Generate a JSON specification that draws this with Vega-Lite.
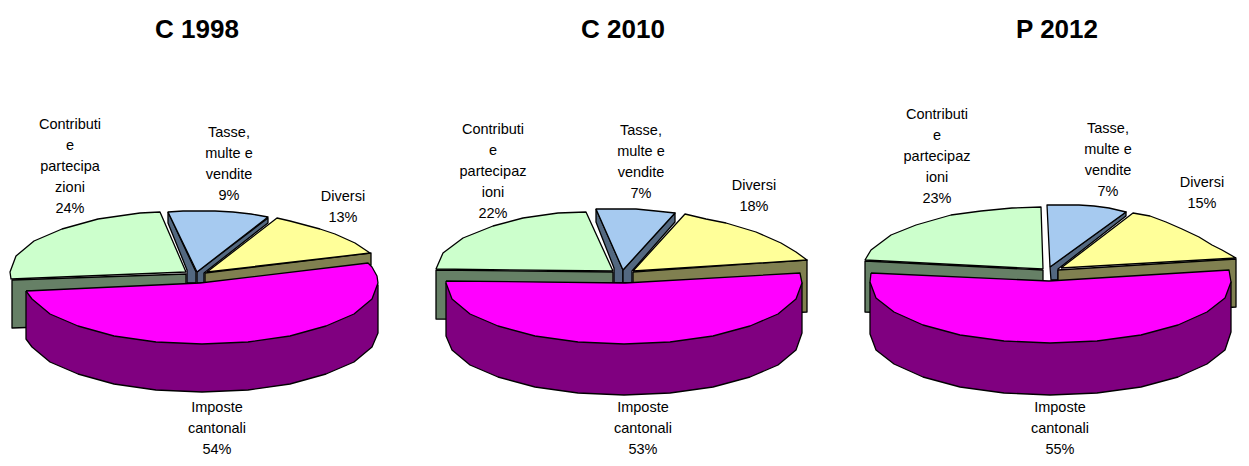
{"$schema":"https://vega.github.io/schema/vega-lite/v6.json","padding":0,"background":"white","bounds":"flush","config":{"view":{"stroke":null}},
"datasets":{"t":[
{"chart":"C 1998","role":"title","text":"C 1998","x":197,"y":17},
{"chart":"C 1998","role":"label","text":"Contributi\ne\npartecipa\nzioni\n24%","x":70,"y":118},
{"chart":"C 1998","role":"label","text":"Tasse,\nmulte e\nvendite\n9%","x":229,"y":126},
{"chart":"C 1998","role":"label","text":"Diversi\n13%","x":343,"y":190},
{"chart":"C 1998","role":"label","text":"Imposte\ncantonali\n54%","x":217,"y":401},
{"chart":"C 2010","role":"title","text":"C 2010","x":207,"y":17},
{"chart":"C 2010","role":"label","text":"Contributi\ne\npartecipaz\nioni\n22%","x":77,"y":123},
{"chart":"C 2010","role":"label","text":"Tasse,\nmulte e\nvendite\n7%","x":225,"y":124},
{"chart":"C 2010","role":"label","text":"Diversi\n18%","x":338,"y":179},
{"chart":"C 2010","role":"label","text":"Imposte\ncantonali\n53%","x":227,"y":401},
{"chart":"P 2012","role":"title","text":"P 2012","x":225,"y":17},
{"chart":"P 2012","role":"label","text":"Contributi\ne\npartecipaz\nioni\n23%","x":105,"y":108},
{"chart":"P 2012","role":"label","text":"Tasse,\nmulte e\nvendite\n7%","x":276,"y":122},
{"chart":"P 2012","role":"label","text":"Diversi\n15%","x":370,"y":176},
{"chart":"P 2012","role":"label","text":"Imposte\ncantonali\n55%","x":228,"y":401}
],
"p":[
{"chart":"C 1998","part":"cs","x":12,"y":280},{"chart":"C 1998","part":"cs","x":186,"y":274},{"chart":"C 1998","part":"cs","x":186,"y":322},{"chart":"C 1998","part":"cs","x":12,"y":328},{"chart":"C 1998","part":"cs","x":12,"y":280},
{"chart":"C 1998","part":"c","x":186,"y":272},{"chart":"C 1998","part":"c","x":11,"y":279},{"chart":"C 1998","part":"c","x":10,"y":272},{"chart":"C 1998","part":"c","x":16,"y":256},{"chart":"C 1998","part":"c","x":34,"y":241},{"chart":"C 1998","part":"c","x":62,"y":229},{"chart":"C 1998","part":"c","x":98,"y":219},{"chart":"C 1998","part":"c","x":140,"y":213},{"chart":"C 1998","part":"c","x":160,"y":212},{"chart":"C 1998","part":"c","x":186,"y":272},
{"chart":"C 1998","part":"tl","x":168,"y":212},{"chart":"C 1998","part":"tl","x":168,"y":223},{"chart":"C 1998","part":"tl","x":187,"y":270},{"chart":"C 1998","part":"tl","x":187,"y":283},{"chart":"C 1998","part":"tl","x":196,"y":283},{"chart":"C 1998","part":"tl","x":196,"y":272},{"chart":"C 1998","part":"tl","x":168,"y":212},
{"chart":"C 1998","part":"tr","x":197,"y":272},{"chart":"C 1998","part":"tr","x":268,"y":218},{"chart":"C 1998","part":"tr","x":268,"y":223},{"chart":"C 1998","part":"tr","x":204,"y":273},{"chart":"C 1998","part":"tr","x":204,"y":283},{"chart":"C 1998","part":"tr","x":197,"y":283},{"chart":"C 1998","part":"tr","x":197,"y":272},
{"chart":"C 1998","part":"t","x":197,"y":272},{"chart":"C 1998","part":"t","x":168,"y":212},{"chart":"C 1998","part":"t","x":183,"y":211},{"chart":"C 1998","part":"t","x":197,"y":211},{"chart":"C 1998","part":"t","x":215,"y":211},{"chart":"C 1998","part":"t","x":233,"y":212},{"chart":"C 1998","part":"t","x":251,"y":214},{"chart":"C 1998","part":"t","x":268,"y":217},{"chart":"C 1998","part":"t","x":197,"y":272},
{"chart":"C 1998","part":"ds","x":205,"y":273},{"chart":"C 1998","part":"ds","x":371,"y":253},{"chart":"C 1998","part":"ds","x":371,"y":265},{"chart":"C 1998","part":"ds","x":205,"y":285},{"chart":"C 1998","part":"ds","x":205,"y":273},
{"chart":"C 1998","part":"d","x":207,"y":272},{"chart":"C 1998","part":"d","x":277,"y":218},{"chart":"C 1998","part":"d","x":290,"y":221},{"chart":"C 1998","part":"d","x":305,"y":225},{"chart":"C 1998","part":"d","x":320,"y":229},{"chart":"C 1998","part":"d","x":335,"y":234},{"chart":"C 1998","part":"d","x":355,"y":243},{"chart":"C 1998","part":"d","x":370,"y":253},{"chart":"C 1998","part":"d","x":207,"y":272},
{"chart":"C 1998","part":"is","x":26,"y":291},{"chart":"C 1998","part":"is","x":26,"y":339},{"chart":"C 1998","part":"is","x":32,"y":347},{"chart":"C 1998","part":"is","x":50,"y":362},{"chart":"C 1998","part":"is","x":78,"y":374},{"chart":"C 1998","part":"is","x":114,"y":384},{"chart":"C 1998","part":"is","x":156,"y":390},{"chart":"C 1998","part":"is","x":202,"y":392},{"chart":"C 1998","part":"is","x":248,"y":390},{"chart":"C 1998","part":"is","x":290,"y":384},{"chart":"C 1998","part":"is","x":326,"y":374},{"chart":"C 1998","part":"is","x":354,"y":362},{"chart":"C 1998","part":"is","x":372,"y":347},{"chart":"C 1998","part":"is","x":378,"y":333},{"chart":"C 1998","part":"is","x":378,"y":285},{"chart":"C 1998","part":"is","x":26,"y":291},
{"chart":"C 1998","part":"i","x":26,"y":291},{"chart":"C 1998","part":"i","x":200,"y":283},{"chart":"C 1998","part":"i","x":368,"y":263},{"chart":"C 1998","part":"i","x":372,"y":267},{"chart":"C 1998","part":"i","x":377,"y":276},{"chart":"C 1998","part":"i","x":378,"y":283},{"chart":"C 1998","part":"i","x":372,"y":299},{"chart":"C 1998","part":"i","x":354,"y":314},{"chart":"C 1998","part":"i","x":326,"y":326},{"chart":"C 1998","part":"i","x":290,"y":336},{"chart":"C 1998","part":"i","x":248,"y":342},{"chart":"C 1998","part":"i","x":202,"y":344},{"chart":"C 1998","part":"i","x":156,"y":342},{"chart":"C 1998","part":"i","x":114,"y":336},{"chart":"C 1998","part":"i","x":78,"y":326},{"chart":"C 1998","part":"i","x":50,"y":314},{"chart":"C 1998","part":"i","x":32,"y":299},{"chart":"C 1998","part":"i","x":26,"y":291},

{"chart":"C 2010","part":"cs","x":20,"y":270},{"chart":"C 2010","part":"cs","x":197,"y":272},{"chart":"C 2010","part":"cs","x":197,"y":320},{"chart":"C 2010","part":"cs","x":20,"y":319},{"chart":"C 2010","part":"cs","x":20,"y":270},
{"chart":"C 2010","part":"c","x":197,"y":271},{"chart":"C 2010","part":"c","x":20,"y":269},{"chart":"C 2010","part":"c","x":27,"y":253},{"chart":"C 2010","part":"c","x":47,"y":238},{"chart":"C 2010","part":"c","x":77,"y":226},{"chart":"C 2010","part":"c","x":107,"y":218},{"chart":"C 2010","part":"c","x":142,"y":213},{"chart":"C 2010","part":"c","x":170,"y":212},{"chart":"C 2010","part":"c","x":197,"y":271},
{"chart":"C 2010","part":"tl","x":180,"y":209},{"chart":"C 2010","part":"tl","x":180,"y":222},{"chart":"C 2010","part":"tl","x":198,"y":268},{"chart":"C 2010","part":"tl","x":198,"y":283},{"chart":"C 2010","part":"tl","x":207,"y":283},{"chart":"C 2010","part":"tl","x":207,"y":270},{"chart":"C 2010","part":"tl","x":180,"y":209},
{"chart":"C 2010","part":"tr","x":207,"y":270},{"chart":"C 2010","part":"tr","x":259,"y":213},{"chart":"C 2010","part":"tr","x":259,"y":222},{"chart":"C 2010","part":"tr","x":216,"y":271},{"chart":"C 2010","part":"tr","x":216,"y":283},{"chart":"C 2010","part":"tr","x":207,"y":283},{"chart":"C 2010","part":"tr","x":207,"y":270},
{"chart":"C 2010","part":"t","x":207,"y":270},{"chart":"C 2010","part":"t","x":180,"y":209},{"chart":"C 2010","part":"t","x":200,"y":209},{"chart":"C 2010","part":"t","x":220,"y":209},{"chart":"C 2010","part":"t","x":240,"y":211},{"chart":"C 2010","part":"t","x":259,"y":213},{"chart":"C 2010","part":"t","x":207,"y":270},
{"chart":"C 2010","part":"ds","x":217,"y":272},{"chart":"C 2010","part":"ds","x":391,"y":260},{"chart":"C 2010","part":"ds","x":391,"y":312},{"chart":"C 2010","part":"ds","x":217,"y":320},{"chart":"C 2010","part":"ds","x":217,"y":272},
{"chart":"C 2010","part":"d","x":217,"y":271},{"chart":"C 2010","part":"d","x":269,"y":214},{"chart":"C 2010","part":"d","x":290,"y":219},{"chart":"C 2010","part":"d","x":310,"y":223},{"chart":"C 2010","part":"d","x":340,"y":232},{"chart":"C 2010","part":"d","x":365,"y":243},{"chart":"C 2010","part":"d","x":380,"y":252},{"chart":"C 2010","part":"d","x":391,"y":260},{"chart":"C 2010","part":"d","x":217,"y":271},
{"chart":"C 2010","part":"is","x":30,"y":283},{"chart":"C 2010","part":"is","x":30,"y":336},{"chart":"C 2010","part":"is","x":36,"y":350},{"chart":"C 2010","part":"is","x":54,"y":365},{"chart":"C 2010","part":"is","x":82,"y":377},{"chart":"C 2010","part":"is","x":119,"y":387},{"chart":"C 2010","part":"is","x":162,"y":393},{"chart":"C 2010","part":"is","x":208,"y":395},{"chart":"C 2010","part":"is","x":254,"y":393},{"chart":"C 2010","part":"is","x":297,"y":387},{"chart":"C 2010","part":"is","x":334,"y":377},{"chart":"C 2010","part":"is","x":362,"y":365},{"chart":"C 2010","part":"is","x":380,"y":350},{"chart":"C 2010","part":"is","x":386,"y":333},{"chart":"C 2010","part":"is","x":386,"y":283},{"chart":"C 2010","part":"is","x":30,"y":283},
{"chart":"C 2010","part":"i","x":30,"y":281},{"chart":"C 2010","part":"i","x":209,"y":283},{"chart":"C 2010","part":"i","x":384,"y":273},{"chart":"C 2010","part":"i","x":386,"y":283},{"chart":"C 2010","part":"i","x":380,"y":299},{"chart":"C 2010","part":"i","x":362,"y":314},{"chart":"C 2010","part":"i","x":334,"y":326},{"chart":"C 2010","part":"i","x":297,"y":336},{"chart":"C 2010","part":"i","x":254,"y":342},{"chart":"C 2010","part":"i","x":208,"y":344},{"chart":"C 2010","part":"i","x":162,"y":342},{"chart":"C 2010","part":"i","x":119,"y":336},{"chart":"C 2010","part":"i","x":82,"y":326},{"chart":"C 2010","part":"i","x":54,"y":314},{"chart":"C 2010","part":"i","x":36,"y":299},{"chart":"C 2010","part":"i","x":30,"y":283},{"chart":"C 2010","part":"i","x":30,"y":281},

{"chart":"P 2012","part":"cs","x":33,"y":261},{"chart":"P 2012","part":"cs","x":211,"y":270},{"chart":"P 2012","part":"cs","x":211,"y":318},{"chart":"P 2012","part":"cs","x":33,"y":312},{"chart":"P 2012","part":"cs","x":33,"y":261},
{"chart":"P 2012","part":"c","x":211,"y":269},{"chart":"P 2012","part":"c","x":33,"y":260},{"chart":"P 2012","part":"c","x":39,"y":250},{"chart":"P 2012","part":"c","x":59,"y":235},{"chart":"P 2012","part":"c","x":84,"y":225},{"chart":"P 2012","part":"c","x":119,"y":215},{"chart":"P 2012","part":"c","x":149,"y":211},{"chart":"P 2012","part":"c","x":180,"y":208},{"chart":"P 2012","part":"c","x":209,"y":207},{"chart":"P 2012","part":"c","x":211,"y":269},
{"chart":"P 2012","part":"tr","x":218,"y":267},{"chart":"P 2012","part":"tr","x":294,"y":212},{"chart":"P 2012","part":"tr","x":294,"y":216},{"chart":"P 2012","part":"tr","x":226,"y":269},{"chart":"P 2012","part":"tr","x":226,"y":280},{"chart":"P 2012","part":"tr","x":219,"y":280},{"chart":"P 2012","part":"tr","x":218,"y":267},
{"chart":"P 2012","part":"t","x":218,"y":267},{"chart":"P 2012","part":"t","x":215,"y":205},{"chart":"P 2012","part":"t","x":230,"y":205},{"chart":"P 2012","part":"t","x":247,"y":205},{"chart":"P 2012","part":"t","x":262,"y":206},{"chart":"P 2012","part":"t","x":277,"y":208},{"chart":"P 2012","part":"t","x":294,"y":212},{"chart":"P 2012","part":"t","x":218,"y":267},
{"chart":"P 2012","part":"ds","x":226,"y":270},{"chart":"P 2012","part":"ds","x":404,"y":259},{"chart":"P 2012","part":"ds","x":404,"y":307},{"chart":"P 2012","part":"ds","x":226,"y":318},{"chart":"P 2012","part":"ds","x":226,"y":270},
{"chart":"P 2012","part":"d","x":229,"y":268},{"chart":"P 2012","part":"d","x":301,"y":213},{"chart":"P 2012","part":"d","x":318,"y":216},{"chart":"P 2012","part":"d","x":334,"y":222},{"chart":"P 2012","part":"d","x":350,"y":229},{"chart":"P 2012","part":"d","x":367,"y":237},{"chart":"P 2012","part":"d","x":380,"y":245},{"chart":"P 2012","part":"d","x":390,"y":250},{"chart":"P 2012","part":"d","x":404,"y":258},{"chart":"P 2012","part":"d","x":229,"y":268},
{"chart":"P 2012","part":"is","x":38,"y":282},{"chart":"P 2012","part":"is","x":38,"y":334},{"chart":"P 2012","part":"is","x":44,"y":350},{"chart":"P 2012","part":"is","x":62,"y":364},{"chart":"P 2012","part":"is","x":91,"y":377},{"chart":"P 2012","part":"is","x":128,"y":387},{"chart":"P 2012","part":"is","x":172,"y":393},{"chart":"P 2012","part":"is","x":218,"y":395},{"chart":"P 2012","part":"is","x":265,"y":393},{"chart":"P 2012","part":"is","x":309,"y":387},{"chart":"P 2012","part":"is","x":346,"y":377},{"chart":"P 2012","part":"is","x":375,"y":364},{"chart":"P 2012","part":"is","x":393,"y":350},{"chart":"P 2012","part":"is","x":399,"y":332},{"chart":"P 2012","part":"is","x":399,"y":282},{"chart":"P 2012","part":"is","x":38,"y":282},
{"chart":"P 2012","part":"i","x":39,"y":273},{"chart":"P 2012","part":"i","x":217,"y":281},{"chart":"P 2012","part":"i","x":397,"y":270},{"chart":"P 2012","part":"i","x":399,"y":282},{"chart":"P 2012","part":"i","x":393,"y":298},{"chart":"P 2012","part":"i","x":375,"y":312},{"chart":"P 2012","part":"i","x":346,"y":325},{"chart":"P 2012","part":"i","x":309,"y":335},{"chart":"P 2012","part":"i","x":265,"y":341},{"chart":"P 2012","part":"i","x":218,"y":343},{"chart":"P 2012","part":"i","x":172,"y":341},{"chart":"P 2012","part":"i","x":128,"y":335},{"chart":"P 2012","part":"i","x":91,"y":325},{"chart":"P 2012","part":"i","x":62,"y":312},{"chart":"P 2012","part":"i","x":44,"y":298},{"chart":"P 2012","part":"i","x":38,"y":282},{"chart":"P 2012","part":"i","x":39,"y":273}
]},
"hconcat":[
{"width":416,"height":466,"layer":[
{"data":{"name":"p"},"transform":[{"filter":"datum.chart==='C 1998'"}],"mark":{"type":"line","order":null,"stroke":"black","strokeWidth":1.3,"strokeJoin":"round","clip":false},"encoding":{"x":{"field":"x","type":"quantitative","axis":null,"scale":{"domain":[0,416],"nice":false,"zero":false}},"y":{"field":"y","type":"quantitative","axis":null,"scale":{"domain":[466,0],"nice":false,"zero":false}},"fill":{"field":"part","type":"nominal","legend":null,"sort":null,"scale":{"domain":["cs","c","tl","tr","t","ds","d","is","i"],"range":["#668066","#CCFFCC","#536880","#536880","#A6CAF0","#808050","#FFFF99","#800080","#FF00FF"]}}}},
{"data":{"name":"t"},"transform":[{"filter":"datum.chart==='C 1998' && datum.role==='label'"}],"mark":{"type":"text","font":"Liberation Sans","fontSize":14.5,"lineBreak":"\n","lineHeight":21,"baseline":"top","align":"center","color":"#000"},"encoding":{"x":{"field":"x","type":"quantitative"},"y":{"field":"y","type":"quantitative"},"text":{"field":"text"}}},
{"data":{"name":"t"},"transform":[{"filter":"datum.chart==='C 1998' && datum.role==='title'"}],"mark":{"type":"text","font":"Liberation Sans","fontSize":26,"fontWeight":"bold","baseline":"top","align":"center","color":"#000"},"encoding":{"x":{"field":"x","type":"quantitative"},"y":{"field":"y","type":"quantitative"},"text":{"field":"text"}}}
]},
{"width":416,"height":466,"layer":[
{"data":{"name":"p"},"transform":[{"filter":"datum.chart==='C 2010'"}],"mark":{"type":"line","order":null,"stroke":"black","strokeWidth":1.3,"strokeJoin":"round","clip":false},"encoding":{"x":{"field":"x","type":"quantitative","axis":null,"scale":{"domain":[0,416],"nice":false,"zero":false}},"y":{"field":"y","type":"quantitative","axis":null,"scale":{"domain":[466,0],"nice":false,"zero":false}},"fill":{"field":"part","type":"nominal","legend":null,"sort":null,"scale":{"domain":["cs","c","tl","tr","t","ds","d","is","i"],"range":["#668066","#CCFFCC","#536880","#536880","#A6CAF0","#808050","#FFFF99","#800080","#FF00FF"]}}}},
{"data":{"name":"t"},"transform":[{"filter":"datum.chart==='C 2010' && datum.role==='label'"}],"mark":{"type":"text","font":"Liberation Sans","fontSize":14.5,"lineBreak":"\n","lineHeight":21,"baseline":"top","align":"center","color":"#000"},"encoding":{"x":{"field":"x","type":"quantitative"},"y":{"field":"y","type":"quantitative"},"text":{"field":"text"}}},
{"data":{"name":"t"},"transform":[{"filter":"datum.chart==='C 2010' && datum.role==='title'"}],"mark":{"type":"text","font":"Liberation Sans","fontSize":26,"fontWeight":"bold","baseline":"top","align":"center","color":"#000"},"encoding":{"x":{"field":"x","type":"quantitative"},"y":{"field":"y","type":"quantitative"},"text":{"field":"text"}}}
]},
{"width":417,"height":466,"layer":[
{"data":{"name":"p"},"transform":[{"filter":"datum.chart==='P 2012'"}],"mark":{"type":"line","order":null,"stroke":"black","strokeWidth":1.3,"strokeJoin":"round","clip":false},"encoding":{"x":{"field":"x","type":"quantitative","axis":null,"scale":{"domain":[0,417],"nice":false,"zero":false}},"y":{"field":"y","type":"quantitative","axis":null,"scale":{"domain":[466,0],"nice":false,"zero":false}},"fill":{"field":"part","type":"nominal","legend":null,"sort":null,"scale":{"domain":["cs","c","tl","tr","t","ds","d","is","i"],"range":["#668066","#CCFFCC","#536880","#536880","#A6CAF0","#808050","#FFFF99","#800080","#FF00FF"]}}}},
{"data":{"name":"t"},"transform":[{"filter":"datum.chart==='P 2012' && datum.role==='label'"}],"mark":{"type":"text","font":"Liberation Sans","fontSize":14.5,"lineBreak":"\n","lineHeight":21,"baseline":"top","align":"center","color":"#000"},"encoding":{"x":{"field":"x","type":"quantitative"},"y":{"field":"y","type":"quantitative"},"text":{"field":"text"}}},
{"data":{"name":"t"},"transform":[{"filter":"datum.chart==='P 2012' && datum.role==='title'"}],"mark":{"type":"text","font":"Liberation Sans","fontSize":26,"fontWeight":"bold","baseline":"top","align":"center","color":"#000"},"encoding":{"x":{"field":"x","type":"quantitative"},"y":{"field":"y","type":"quantitative"},"text":{"field":"text"}}}
]}
],"spacing":0}
